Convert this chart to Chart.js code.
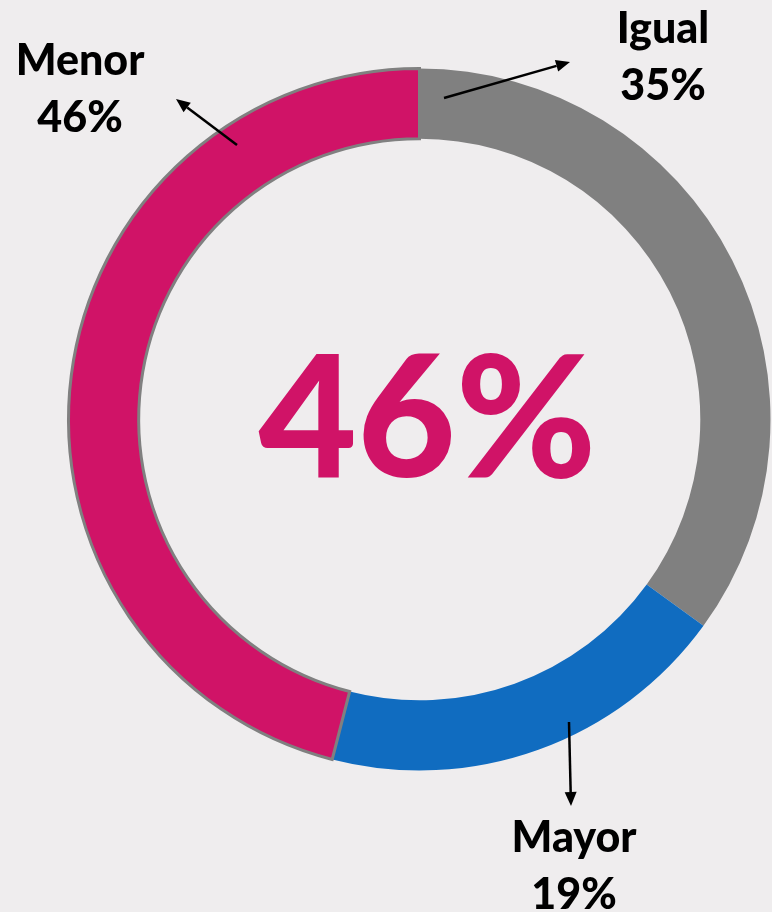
<!DOCTYPE html>
<html>
<head>
<meta charset="utf-8">
<script src="https://cdn.jsdelivr.net/npm/chart.js@4"></script>
<style>
    html, body { margin: 0; padding: 0; background: #efedee; overflow: hidden; }
    #caixa { width: 772px; height: 912px; position: relative; }
</style>
</head>
<body>
<div id="caixa"><canvas id="myChartDona"></canvas></div>
<script>
// dados do grafico
const categorias = ['Igual', 'Mayor', 'Menor'];
const valores = [35, 19, 46];
const cores = ['#808080', '#106cc0', '#d01367'];
const bordas = [0, 0, 3];

// posicao dos rotulos e das setas (x, y)
const posRotulos = [[663, 43], [574, 852], [80, 75]];
const setas = [
    [444, 98, 570, 62],
    [569, 722, 571, 806],
    [237, 145, 176, 99]
];

function desenharSeta(ctx, x1, y1, x2, y2) {
    const ang = Math.atan2(y2 - y1, x2 - x1);
    const tam = 14;
    const bx = x2 - tam * Math.cos(ang);
    const by = y2 - tam * Math.sin(ang);
    ctx.beginPath();
    ctx.moveTo(x1, y1);
    ctx.lineTo(bx, by);
    ctx.strokeStyle = '#000000';
    ctx.lineWidth = 2.5;
    ctx.stroke();
    ctx.beginPath();
    ctx.moveTo(x2, y2);
    ctx.lineTo(bx + 6 * Math.sin(ang), by - 6 * Math.cos(ang));
    ctx.lineTo(bx - 6 * Math.sin(ang), by + 6 * Math.cos(ang));
    ctx.closePath();
    ctx.fillStyle = '#000000';
    ctx.fill();
}

// plugin para textos e setas
const rotulos = {
    id: 'rotulos',
    afterDraw(chart) {
        const ctx = chart.ctx;
        const arco = chart.getDatasetMeta(0).data[0];
        ctx.save();
        ctx.textAlign = 'center';
        ctx.textBaseline = 'alphabetic';

        // valor central (Menor)
        ctx.fillStyle = cores[2];
        ctx.font = '900 170px Lato';
        ctx.fillText(valores[2] + '%', arco.x + 8, 477);

        ctx.fillStyle = '#000000';
        ctx.font = '900 43px Lato';
        for (let i = 0; i < categorias.length; i++) {
            const p = posRotulos[i];
            ctx.fillText(categorias[i], p[0], p[1]);
            ctx.fillText(valores[i] + '%', p[0], p[1] + 57);
            desenharSeta(ctx, setas[i][0], setas[i][1], setas[i][2], setas[i][3]);
        }
        ctx.restore();
    }
};

const config = {
    type: 'doughnut',
    data: {
        labels: categorias,
        datasets: [{
            data: valores,
            backgroundColor: cores,
            borderColor: '#808080',
            borderWidth: bordas,
            borderJoinStyle: 'miter'
        }]
    },
    options: {
        responsive: true,
        maintainAspectRatio: false,
        animation: false,
        cutout: '80%',
        layout: {
            padding: { left: 67, top: 66, right: -2, bottom: 139 }
        },
        plugins: {
            legend: { display: false },
            tooltip: { enabled: false }
        }
    },
    plugins: [rotulos]
};

new Chart(document.getElementById('myChartDona').getContext('2d'), config);
</script>
</body>
</html>
